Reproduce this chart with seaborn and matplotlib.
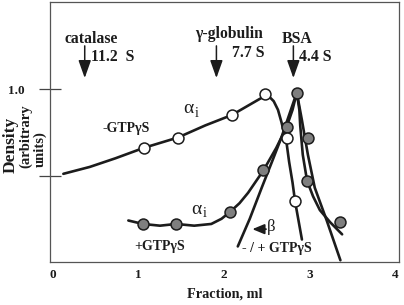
import numpy as np
import pandas as pd
import matplotlib
matplotlib.use("Agg")
import matplotlib.pyplot as plt
import seaborn as sns

# --- data (fraction in ml, density arbitrary units) ---
# alpha_i without GTPgammaS: measured points and drawn curve
minus_x = [1.06, 1.46, 2.09, 2.48, 2.73, 2.83]
minus_y = [0.66, 0.72, 0.85, 0.97, 0.72, 0.35]
minus_curve_x = [0.12, 0.43, 0.73, 1.06, 1.46, 1.78, 2.09, 2.30, 2.44, 2.52,
                 2.58, 2.63, 2.67, 2.70, 2.73, 2.76, 2.80, 2.83, 2.87, 2.91]
minus_curve_y = [0.51, 0.55, 0.60, 0.66, 0.72, 0.79, 0.85, 0.91, 0.95, 0.96,
                 0.93, 0.88, 0.81, 0.75, 0.69, 0.58, 0.46, 0.35, 0.24, 0.13]

# alpha_i with GTPgammaS
plus_x = [1.05, 1.44, 2.07, 2.46, 2.73, 2.85, 2.98, 2.97, 3.35]
plus_y = [0.22, 0.22, 0.29, 0.53, 0.78, 0.98, 0.72, 0.47, 0.23]
plus_curve_x = [0.88, 1.05, 1.25, 1.44, 1.65, 1.85, 1.97, 2.07, 2.18, 2.28,
                2.46, 2.61, 2.73, 2.80, 2.85, 2.88, 2.89, 2.92, 2.97, 3.04,
                3.12, 3.24, 3.38]
plus_curve_y = [0.24, 0.22, 0.21, 0.22, 0.21, 0.22, 0.25, 0.29, 0.34, 0.40,
                0.53, 0.66, 0.78, 0.88, 0.98, 0.88, 0.79, 0.62, 0.47, 0.38,
                0.30, 0.23, 0.16]

# beta subunit, -/+ GTPgammaS
beta_curve_x = [2.16, 2.30, 2.44, 2.56, 2.67, 2.76, 2.85, 2.91, 2.98, 3.06, 3.20, 3.36]
beta_curve_y = [0.09, 0.25, 0.43, 0.58, 0.72, 0.85, 0.98, 0.82, 0.62, 0.43, 0.24, 0.01]

# sedimentation standards
std_names = ["catalase", "\u03b3-globulin", "BSA"]
std_svals = ["11.2  S", "7.7 S", "4.4 S"]
std_pos = [0.37, 1.91, 2.81]

x_ticks = [0, 1, 2, 3, 4]
y_ticks = [0.5, 1.0]
y_ticklabels = ["", "1.0"]

sns.set_theme(style="white")
plt.rcParams["font.family"] = ["Liberation Serif", "DejaVu Serif"]
plt.rcParams["mathtext.fontset"] = "dejavuserif"

ink = "#1c1c1c"
fig = plt.figure(figsize=(4.04, 3.05), dpi=100)
ax = fig.add_axes([0.124, 0.141, 0.864, 0.852])

lw = 1.9
sns.lineplot(x=minus_curve_x, y=minus_curve_y, ax=ax, color=ink, lw=lw,
             sort=False, estimator=None)
sns.lineplot(x=plus_curve_x, y=plus_curve_y, ax=ax, color=ink, lw=lw,
             sort=False, estimator=None)
sns.lineplot(x=beta_curve_x, y=beta_curve_y, ax=ax, color=ink, lw=lw,
             sort=False, estimator=None)

sns.scatterplot(x=plus_x, y=plus_y, ax=ax, s=62, color="#7f7f7f",
                edgecolor=ink, linewidth=1.1, zorder=5)
sns.scatterplot(x=minus_x, y=minus_y, ax=ax, s=62, color="white",
                edgecolor=ink, linewidth=1.1, zorder=6)

ax.set_xlim(-0.035, 4.047)
ax.set_ylim(0, 1.503)
ax.set_xticks(x_ticks)
ax.set_yticks(y_ticks)
ax.set_yticklabels(y_ticklabels)
ax.tick_params(axis="x", bottom=False, length=0, pad=5, labelsize=9.5,
               labelcolor=ink)
ax.tick_params(axis="y", left=True, direction="inout", length=16, width=0.9,
               color="#444444", pad=10, labelsize=9.5, labelcolor=ink)
for lab in ax.get_xticklabels() + ax.get_yticklabels():
    lab.set_fontweight("bold")
for sp in ax.spines.values():
    sp.set_color("#555555")
    sp.set_linewidth(0.9)
ax.set_xlabel("Fraction, ml", fontsize=10.3, fontweight="bold", color=ink,
              labelpad=5)
ax.set_ylabel("")

# y label, three stacked lines
fig.text(0.027, 0.525, "Density", rotation=90, ha="center", va="center",
         fontsize=12.5, fontweight="bold", color=ink)
fig.text(0.064, 0.555, "(arbitrary", rotation=90, ha="center", va="center",
         fontsize=10.5, fontweight="bold", color=ink)
fig.text(0.099, 0.51, "units)", rotation=90, ha="center", va="center",
         fontsize=10.5, fontweight="bold", color=ink)

# standards arrows
name_xy = [(0.44, 1.29), (2.06, 1.32), (2.85, 1.29)]
sval_xy = [(0.44, 1.185), (2.09, 1.21), (2.88, 1.185)]
for name, sv, px, nxy, sxy in zip(std_names, std_svals, std_pos, name_xy, sval_xy):
    ax.annotate("", xy=(px, 1.064), xytext=(px, 1.25),
                arrowprops=dict(arrowstyle="-|>,head_length=0.9,head_width=0.32",
                                color=ink, lw=1.1, shrinkA=0, shrinkB=0))
    ax.text(nxy[0], nxy[1], name, ha="center", va="center", fontsize=11.3,
            fontweight="bold", color=ink)
    ax.text(sxy[0], sxy[1], sv, ha="left", va="center", fontsize=11.3,
            fontweight="bold", color=ink)

# curve labels (upright alpha with small subscript i)
for lx, ly in [(1.58, 0.885), (1.67, 0.305)]:
    ax.text(lx, ly, "\u03b1", ha="center", va="center", fontsize=14, color=ink)
    ax.text(lx + 0.1, ly - 0.025, "i", ha="center", va="center", fontsize=10,
            color=ink)
ax.text(0.85, 0.775, "-GTP\u03b3S", ha="center", va="center", fontsize=10,
        fontweight="bold", color=ink)
ax.text(1.25, 0.09, "+GTP\u03b3S", ha="center", va="center", fontsize=10,
        fontweight="bold", color=ink)
ax.text(2.62, 0.08, "- / + GTP\u03b3S", ha="center", va="center", fontsize=10,
        fontweight="bold", color=ink)
ax.text(2.55, 0.20, "\u03b2", ha="center", va="center", fontsize=12, color=ink)
ax.annotate("", xy=(2.33, 0.19), xytext=(2.49, 0.19),
            arrowprops=dict(arrowstyle="-|>,head_length=0.6,head_width=0.25",
                            color=ink, lw=1.3, shrinkA=0, shrinkB=0))

fig.savefig("out.png", dpi=100)
